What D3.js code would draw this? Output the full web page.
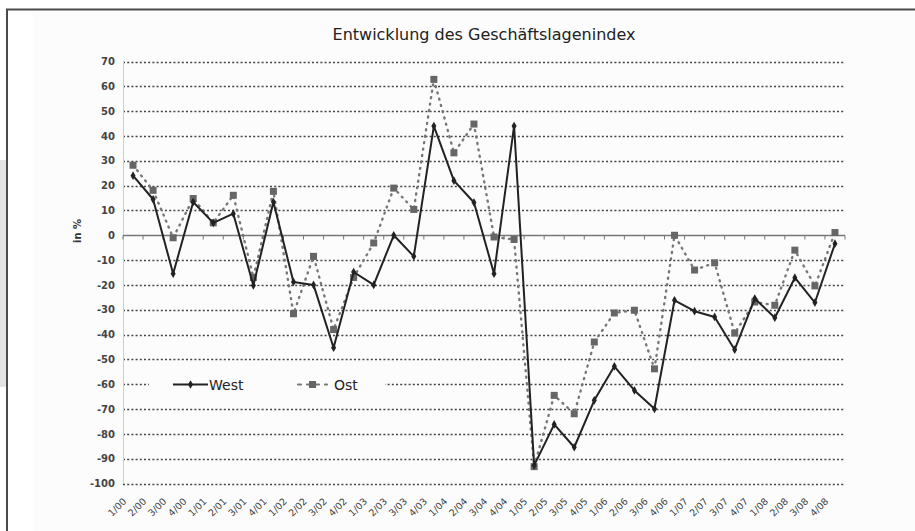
<!DOCTYPE html>
<html>
<head>
<meta charset="utf-8">
<script src="https://cdn.jsdelivr.net/npm/d3@7"></script>
<style>
html,body{margin:0;padding:0;background:#fff;}
svg{display:block;}
</style>
</head>
<body>
<svg id="chart" width="915" height="531"></svg>
<script>
const categories = ["1/00","2/00","3/00","4/00","1/01","2/01","3/01","4/01","1/02","2/02","3/02","4/02","1/03","2/03","3/03","4/03","1/04","2/04","3/04","4/04","1/05","2/05","3/05","4/05","1/06","2/06","3/06","4/06","1/07","2/07","3/07","4/07","1/08","2/08","3/08","4/08"];
const west = [24,14.5,-15.5,13.4,5,8.7,-20.2,13.4,-18.8,-20,-45.3,-14.8,-20,0,-8.5,44,22,13.2,-15.5,44,-92.7,-76.2,-85.4,-66.5,-52.8,-62.5,-69.9,-26.2,-30.6,-32.9,-46.1,-25.5,-33.2,-17.1,-27.1,-3.4];
const ost = [28.2,18.1,-1,14.8,5,16.1,-17,17.7,-31.6,-8.5,-38,-17,-3.1,19,10.4,62.8,33.2,44.8,-0.7,-1.7,-93.2,-64.5,-71.9,-43,-31.3,-30.2,-53.8,0,-14,-11.1,-39.4,-26.9,-28.2,-6,-20.4,1.1];
const yTicks = [70,60,50,40,30,20,10,0,-10,-20,-30,-40,-50,-60,-70,-80,-90,-100];
const seriesNames = ["West","Ost"];
const title = "Entwicklung des Geschäftslagenindex";
const yLabel = "in %";

const svg = d3.select("#chart");
const font = "DejaVu Sans, Verdana, sans-serif";

// frame & decorations
svg.append("rect").attr("x",0).attr("y",160).attr("width",6).attr("height",227).attr("fill","#e2e3e5");
svg.append("rect").attr("x",8).attr("y",10).attr("width",907).attr("height",521).attr("fill","#ffffff");
svg.append("rect").attr("x",33).attr("y",12).attr("width",882).attr("height",519).attr("fill","#fcfcfc");
svg.append("path").attr("d","M7,531V9.5H915").attr("fill","none").attr("stroke","#4a4a4a").attr("stroke-width",2);

const left = 123, right = 845;
const x = d3.scaleBand().domain(categories).range([left,right]);
const y = d3.scaleLinear().domain([-100,70]).range([483.5,61.5]);

// title
svg.append("text").attr("x",(left+right)/2 + 0).attr("y",40).attr("text-anchor","middle")
  .attr("font-family",font).attr("font-size",16).attr("fill","#222").text(title);

// gridlines
svg.append("g").selectAll("line").data(yTicks.filter(d=>d!==0)).join("line")
  .attr("x1",left).attr("x2",right).attr("y1",d=>Math.round(y(d))+0.5).attr("y2",d=>Math.round(y(d))+0.5)
  .attr("stroke","#444").attr("stroke-width",1.3).attr("stroke-dasharray","2,2.2");

// y axis line
svg.append("line").attr("x1",left+0.5).attr("x2",left+0.5).attr("y1",y(70)).attr("y2",y(-100))
  .attr("stroke","#cfcfcf").attr("stroke-width",1);

// y axis labels
const yAxis = d3.axisLeft(y).tickValues(yTicks).tickSize(0).tickPadding(8).tickFormat(d=>String(d));
const ga = svg.append("g").attr("transform",`translate(${left},0)`).call(yAxis);
ga.select(".domain").remove();
ga.selectAll("text").attr("font-family",font).attr("font-size",10).attr("font-weight","bold").attr("fill","#444");

// y title
svg.append("text").attr("transform","translate(81,231) rotate(-90)").attr("text-anchor","middle")
  .attr("font-family",font).attr("font-size",10).attr("font-weight","bold").attr("fill","#333").text(yLabel);

// zero line with ticks
const y0 = Math.round(y(0))+0.5;
svg.append("line").attr("x1",left).attr("x2",right).attr("y1",y0).attr("y2",y0).attr("stroke","#777").attr("stroke-width",1.6);
const xAxis = d3.axisBottom(x).tickSize(0).tickFormat("");
const bounds = categories.map(c=>x(c)).concat([right]);
svg.append("g").selectAll("line").data(bounds).join("line")
  .attr("x1",d=>d).attr("x2",d=>d).attr("y1",y0).attr("y2",y0+4).attr("stroke","#777").attr("stroke-width",1);

// x labels
const gx = svg.append("g").attr("transform",`translate(0,${y(-100)})`).call(xAxis);
gx.select(".domain").remove();
gx.selectAll("text").remove();
svg.append("g").selectAll("text").data(categories).join("text")
  .attr("transform",d=>`translate(${x(d)+x.bandwidth()/2-6},${502}) rotate(-45)`)
  .attr("text-anchor","end").attr("font-family",font).attr("font-size",9.5).attr("fill","#444")
  .text(d=>d);

const cx = d=>x(d)+x.bandwidth()/2;

// Ost line
const lineOst = d3.line().x((d,i)=>cx(categories[i])).y(d=>y(d));
svg.append("path").datum(ost).attr("d",lineOst).attr("fill","none").attr("stroke","#777")
  .attr("stroke-width",2.4).attr("stroke-dasharray","1,5.5").attr("stroke-linecap","round");
svg.append("g").selectAll("rect").data(ost).join("rect")
  .attr("x",(d,i)=>cx(categories[i])-3.5).attr("y",d=>y(d)-3.5).attr("width",7).attr("height",7)
  .attr("fill","#666");

// West line
const lineWest = d3.line().x((d,i)=>cx(categories[i])).y(d=>y(d));
svg.append("path").datum(west).attr("d",lineWest).attr("fill","none").attr("stroke","#222")
  .attr("stroke-width",2).attr("stroke-linejoin","round");
const diamond = d3.symbol().type(d3.symbolDiamond).size(22);
svg.append("g").selectAll("path").data(west).join("path")
  .attr("transform",(d,i)=>`translate(${cx(categories[i])},${y(d)})`).attr("d",diamond).attr("fill","#222");

// legend
const ly = Math.round(y(-60))+0.5;
svg.append("rect").attr("x",149).attr("y",ly-10).attr("width",236).attr("height",20).attr("fill","#fcfcfc");
svg.append("line").attr("x1",173).attr("x2",208).attr("y1",ly).attr("y2",ly).attr("stroke","#222").attr("stroke-width",2);
svg.append("path").attr("transform",`translate(190.5,${ly})`).attr("d",diamond).attr("fill","#222");
svg.append("text").attr("x",209).attr("y",ly+5).attr("font-family",font).attr("font-size",14).attr("fill","#222").text(seriesNames[0]);
svg.append("line").attr("x1",298).attr("x2",327).attr("y1",ly).attr("y2",ly).attr("stroke","#777").attr("stroke-width",2.2).attr("stroke-dasharray","3,6").attr("stroke-linecap","round");
svg.append("rect").attr("x",309).attr("y",ly-3.5).attr("width",7).attr("height",7).attr("fill","#666");
svg.append("text").attr("x",334).attr("y",ly+5).attr("font-family",font).attr("font-size",14).attr("fill","#222").text(seriesNames[1]);
</script>
</body>
</html>
